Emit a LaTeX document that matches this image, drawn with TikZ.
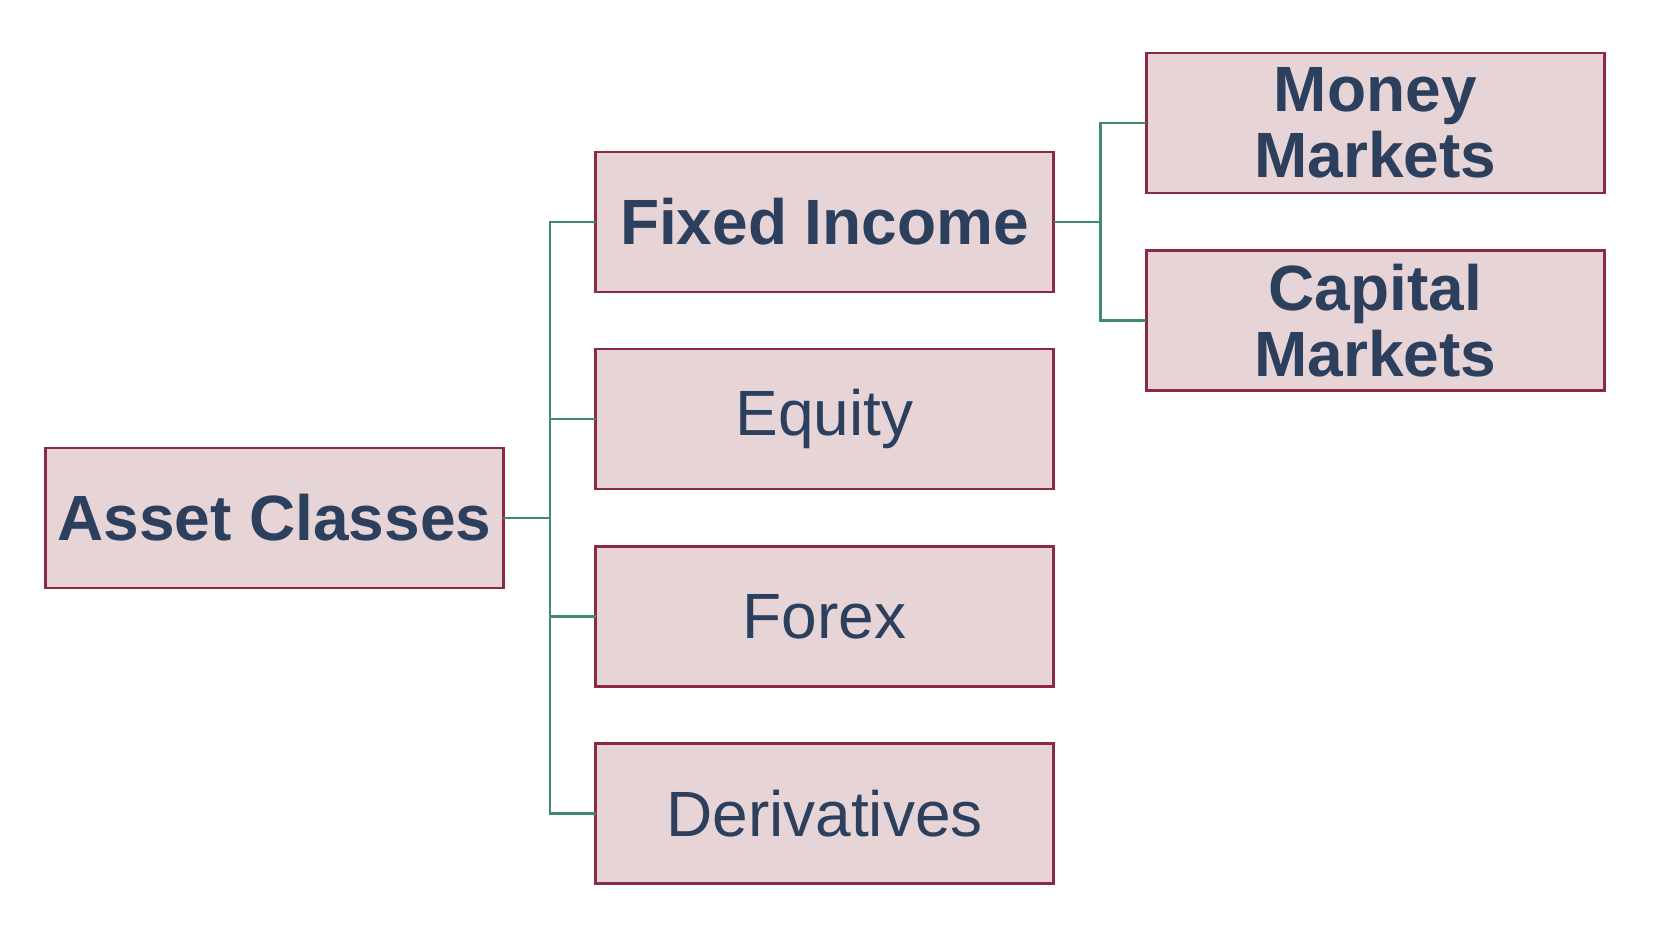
\documentclass[tikz,border=0pt]{standalone}
\usepackage{fontspec}
\setmainfont{Liberation Sans}
\definecolor{boxfill}{HTML}{E6D4D7}
\definecolor{boxline}{HTML}{8C2A44}
\definecolor{txt}{HTML}{2C3F5D}
\definecolor{conn}{HTML}{3F8A6C}
\tikzset{
  cbox/.style={draw=boxline, fill=boxfill, line width=1.25pt, minimum width=229pt, minimum height=70pt,
    inner sep=0pt, outer sep=0pt, text=txt, align=center, font=\fontsize{32}{33}\selectfont},
  bbox/.style={cbox, font=\fontsize{32}{33}\selectfont\bfseries},
  link/.style={draw=conn, line width=1.1pt}
}
\begin{document}
\begin{tikzpicture}[x=0.5pt,y=-0.5pt]
\useasboundingbox (0,0) rectangle (1664,926);
\node[bbox] (asset) at (274.3,517.9) {Asset Classes};
\node[bbox] (fixed) at (824.5,221.8) {Fixed Income};
\node[cbox] (equity) at (824.5,419.1) {Equity};
\node[cbox] (forex) at (824.5,616.5) {Forex};
\node[cbox] (deriv) at (824.5,813.5) {Derivatives};
\node[bbox] (money) at (1375.3,123) {Money\\Markets};
\node[bbox] (capital) at (1375.3,320.5) {Capital\\Markets};
\coordinate (j1) at (549.7,517.9);
\coordinate (j2) at (1100.5,221.8);
\draw[link] (asset.east) -- (j1);
\draw[link] (j1) |- (fixed.west);
\draw[link] (j1) |- (equity.west);
\draw[link] (j1) |- (forex.west);
\draw[link] (j1) |- (deriv.west);
\draw[link] (fixed.east) -- (j2);
\draw[link] (j2) |- (money.west);
\draw[link] (j2) |- (capital.west);
\end{tikzpicture}
\end{document}
